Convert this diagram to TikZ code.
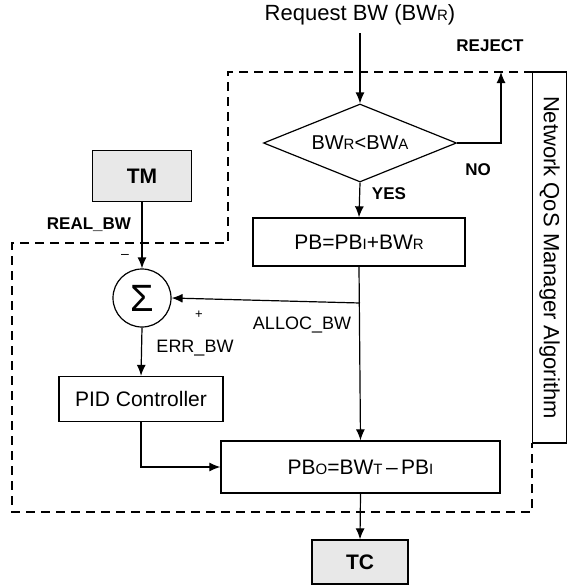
\documentclass[tikz,border=0pt]{standalone}
\usepackage{fontspec}
\setmainfont{Liberation Sans}
\usetikzlibrary{shapes.geometric,arrows.meta}
\newcommand{\sm}[1]{{\fontsize{15}{15}\selectfont #1}}
\tikzset{
  txt/.style={inner sep=0pt,font=\fontsize{22}{24}\selectfont},
  lbl/.style={inner sep=0pt,font=\fontsize{17}{19}\selectfont\bfseries},
  lblr/.style={inner sep=0pt,font=\fontsize{18}{20}\selectfont},
  blk/.style={draw,line width=1.3pt,inner sep=0pt,font=\fontsize{21}{23}\selectfont},
  shaded/.style={blk,fill=gray!18,font=\fontsize{21}{23}\selectfont\bfseries},
  arr/.style={line width=1.2pt,-{Latex[length=11pt,width=9pt]}},
  bound/.style={line width=1.1pt,dash pattern=on 9pt off 6pt}
}
\begin{document}
\begin{tikzpicture}[x=1pt,y=-1pt]
\useasboundingbox (0,0) rectangle (568,586);
% boundary
\draw[bound] (533,72) -- (228,72) -- (228,243) -- (12,243) -- (12,512) -- (532,512) -- (532,443);
% label box
\node[draw,line width=1.2pt,minimum width=34pt,minimum height=371pt,inner sep=0pt] (nq) at (549.5,257.5) {};
\node[txt,rotate=-90,font=\fontsize{22}{24}\selectfont] (nqt) at (nq.center) {Network QoS Manager Algorithm};
% nodes
\node[txt] (req) at (360,15) {Request BW (BW\sm{R})};
\node[draw,diamond,aspect=2.5,line width=1.2pt,minimum width=193pt,minimum height=78pt,inner sep=0pt,font=\fontsize{20}{22}\selectfont] (dec) at (360,143) {BW\sm{R}<BW\sm{A}};
\node[blk,minimum width=212pt,minimum height=48pt] (pb) at (359,242) {PB=PB\sm{I}+BW\sm{R}};
\node[draw,circle,line width=1.2pt,minimum size=58pt,inner sep=0pt,font=\fontsize{38}{38}\selectfont] (sum) at (142,298) {Σ};
\node[shaded,minimum width=99pt,minimum height=51pt] (tm) at (142,176) {TM};
\node[blk,minimum width=164pt,minimum height=45pt] (pid) at (141,399) {PID Controller};
\node[blk,minimum width=279pt,minimum height=52pt] (pbo) at (360.5,467) {PB\sm{O}=BW\sm{T}\,--\,PB\sm{I}};
\node[shaded,minimum width=96pt,minimum height=44pt] (tc) at (360,562) {TC};
% labels
\node[lbl] (rejt) at (490,46) {REJECT};
\node[lbl] (no) at (478,170) {NO};
\node[lbl] (yes) at (389,194) {YES};
\node[lbl] (real) at (89,225) {REAL\_BW};
\node[lblr] (alloc) at (302,325) {ALLOC\_BW};
\node[lblr] (err) at (195,348) {ERR\_BW};
\node[inner sep=0pt,font=\fontsize{13}{13}\selectfont] (plus) at (199,315) {+};
\node[inner sep=0pt,font=\fontsize{14}{14}\selectfont] (minus) at (125,256) {--};
% connectors
\coordinate (rej) at (501,72);
\coordinate (br) at (360,303);
\draw[arr] (req.south) ++(0,8) coordinate (rs) -- (dec.north);
\draw[arr] (dec.east) -| (rej);
\draw[arr] (dec.south) -- (pb.north);
\draw[arr] (pb.south) -- (pbo.north);
\draw[arr] (br) -- (sum.east);
\draw[arr] (tm.south) -- (sum.north);
\draw[arr] (sum.south) -- (pid.north);
\draw[arr] (pid.south) |- (pbo.west);
\draw[arr] (pbo.south) -- (tc.north);
\end{tikzpicture}
\end{document}
